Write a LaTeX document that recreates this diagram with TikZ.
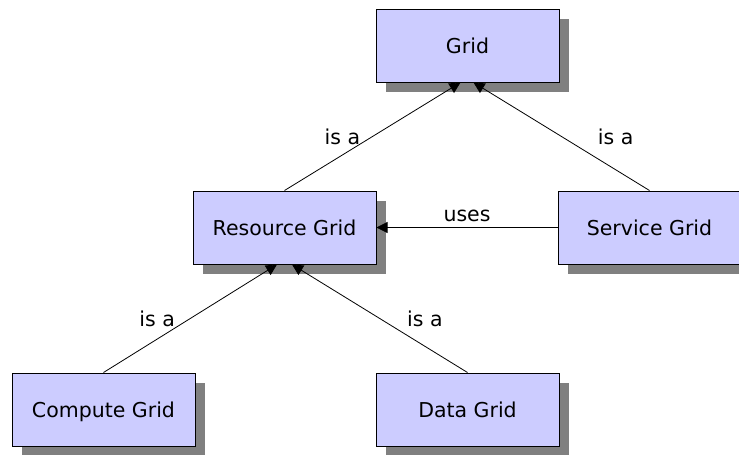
\documentclass[tikz,border=0pt]{standalone}
\usepackage{fontspec}
\setmainfont{DejaVu Sans}
\usetikzlibrary{arrows.meta,shadows}
\definecolor{boxfill}{HTML}{CCCCFF}
\definecolor{shadowgray}{HTML}{808080}
\tikzset{
    gridbox/.style={draw=black, line width=1pt, fill=boxfill, rectangle,
        minimum width=183pt, minimum height=73pt, inner sep=0pt,
        text height=19pt, text depth=4pt,
        drop shadow={shadow xshift=10pt, shadow yshift=-10pt, fill=shadowgray, opacity=1}},
    isa/.style={draw=black, line width=0.8pt, -{Triangle[length=11pt,width=11pt]}},
    lbl/.style={inner sep=0pt}
}
\begin{document}
\begin{tikzpicture}[x=1pt, y=-1pt, font=\fontsize{20.5}{24}\selectfont]
    \useasboundingbox (0,0) rectangle (739,455);
    \clip (0,0) rectangle (739,455);
    % Boxes
    \node[gridbox] (grid) at (467.5,45.5) {Grid};
    \node[gridbox] (res) at (284.5,227.5) {Resource Grid};
    \node[gridbox] (svc) at (649.5,227.5) {Service Grid};
    \node[gridbox] (comp) at (103.5,409.5) {Compute Grid};
    \node[gridbox] (data) at (467.5,409.5) {Data Grid};

    % Generalisation arrows
    \draw[isa] (res.north) -- ([xshift=-7pt]grid.south)
        node[lbl, pos=0.5, left=12pt] (isa1) {is a};
    \draw[isa] (svc.north) -- ([xshift=6pt]grid.south)
        node[lbl, pos=0.5, right=36pt] (isa2) {is a};
    \draw[isa] (comp.north) -- ([xshift=-7.5pt]res.south)
        node[lbl, pos=0.5, left=15pt] (isa3) {is a};
    \draw[isa] (data.north) -- ([xshift=7.5pt]res.south)
        node[lbl, pos=0.5, right=27pt] (isa4) {is a};

    % Usage
    \draw[isa] (svc.west) -- (res.east)
        node[lbl, midway, above=5pt] (uses) {uses};
\end{tikzpicture}
\end{document}
